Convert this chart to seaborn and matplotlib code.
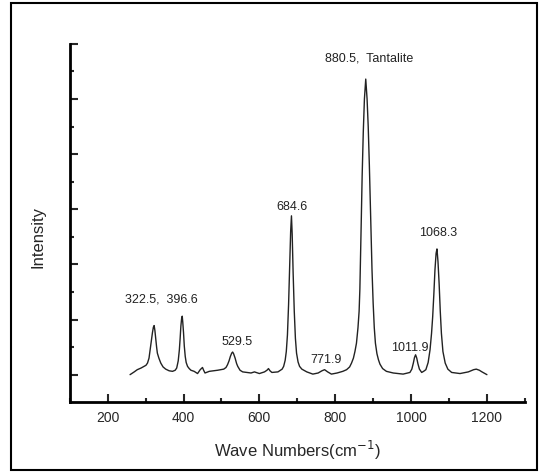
import pandas as pd
import matplotlib.pyplot as plt
import matplotlib.patches as patches
import seaborn as sns

# Raman spectrum points (wave number, intensity)
wave = [259, 270, 278, 288, 296, 301,
        305, 309, 312, 315, 318, 320.5, 322.5, 324.5, 327, 329, 331, 335, 340, 346, 353, 362, 371,
        378, 382, 386, 389, 391, 393, 395, 396.6, 398, 400, 402, 404.5, 407, 410.6, 415, 419.5, 428, 437,
        444, 450, 453, 456.6, 468, 490,
        506, 512, 516, 520, 523.5, 527, 529.5, 532, 536, 540, 543, 549, 556,
        578, 587, 600, 613.5, 620, 624, 628, 633, 649,
        660, 664, 668, 671, 674, 677, 680, 682.5, 684.6, 686.5, 689, 692, 695, 698, 702, 706, 712,
        725, 741, 755, 765, 772, 780, 790, 805, 820,
        830, 838, 843, 848, 852, 856, 860, 863, 865, 867, 869, 871, 874, 877, 880.5,
        884, 887, 890, 893, 895, 897, 900, 903, 906, 910, 914, 918, 925, 935, 953,
        979, 997, 1002, 1006, 1009, 1011.9, 1015, 1018, 1022, 1028, 1033,
        1039, 1045, 1050, 1054, 1057, 1060, 1063, 1066, 1068.3, 1071, 1074, 1077, 1080, 1084, 1090, 1097, 1107,
        1129, 1151, 1165, 1172, 1180, 1187, 1200]
intensity = [0.0, 0.05, 0.09, 0.12, 0.15, 0.17,
             0.21, 0.30, 0.45, 0.60, 0.76, 0.86, 0.89, 0.80, 0.63, 0.50, 0.39, 0.30, 0.21, 0.14, 0.10, 0.07, 0.06,
             0.08, 0.12, 0.25, 0.45, 0.65, 0.88, 1.02, 1.06, 0.95, 0.76, 0.52, 0.33, 0.22, 0.15, 0.11, 0.08, 0.06, 0.02,
             0.09, 0.13, 0.08, 0.03, 0.06, 0.08,
             0.10, 0.13, 0.18, 0.25, 0.33, 0.39, 0.41, 0.38, 0.30, 0.20, 0.15, 0.08, 0.05,
             0.03, 0.05, 0.02, 0.05, 0.08, 0.11, 0.07, 0.04, 0.05,
             0.10, 0.15, 0.26, 0.42, 0.72, 1.27, 2.0, 2.6, 2.88, 2.55, 1.85, 1.15, 0.66, 0.39, 0.23, 0.15, 0.10,
             0.05, 0.01, 0.03, 0.07, 0.09, 0.05, 0.01, 0.03, 0.06,
             0.09, 0.14, 0.21, 0.30, 0.42, 0.57, 0.85, 1.15, 1.55, 2.2, 2.9, 3.6, 4.4, 5.0, 5.36,
             5.0, 4.5, 3.8, 3.0, 2.4, 1.9, 1.3, 0.85, 0.57, 0.38, 0.27, 0.19, 0.11, 0.06, 0.03,
             0.01, 0.04, 0.10, 0.21, 0.31, 0.36, 0.30, 0.20, 0.10, 0.04, 0.06,
             0.09, 0.22, 0.45, 0.75, 1.05, 1.45, 1.9, 2.2, 2.28, 2.05, 1.65, 1.15, 0.75, 0.42, 0.21, 0.10, 0.04,
             0.02, 0.05, 0.09, 0.10, 0.08, 0.05, 0.0]

# peak labels: text, x, y
label_text = ['322.5,  396.6', '529.5', '684.6', '771.9', '880.5,  Tantalite', '1011.9', '1068.3']
label_x = [341, 542, 687, 777, 889, 996, 1071]
label_y = [1.36, 0.60, 3.04, 0.26, 5.74, 0.49, 2.57]

df = pd.DataFrame({'wave': wave, 'intensity': intensity})

sns.set_style('ticks')
plt.rcParams['font.family'] = ['Liberation Sans', 'DejaVu Sans']

fig = plt.figure(figsize=(5.45, 4.76), dpi=100)
ax = fig.add_axes([0.128, 0.155, 0.835, 0.753])

sns.lineplot(data=df, x='wave', y='intensity', ax=ax, color='#222222', linewidth=1.0)

for t, x, y in zip(label_text, label_x, label_y):
    ax.text(x, y, t, ha='center', va='center', fontsize=9, color='#222222')

ax.set_xlim(100, 1300)
ax.set_ylim(-0.5, 6)
ax.set_xticks([200, 400, 600, 800, 1000, 1200])
ax.set_xticks([100, 300, 500, 700, 900, 1100, 1300], minor=True)
ax.set_yticks([0, 1, 2, 3, 4, 5, 6])
ax.set_yticks([0.5, 1.5, 2.5, 3.5, 4.5, 5.5], minor=True)
ax.set_yticklabels([])
ax.tick_params(which='major', direction='in', length=6, width=1.5, labelsize=10, pad=6)
ax.tick_params(which='minor', direction='in', length=3, width=1.5)

for s in ['top', 'right']:
    ax.spines[s].set_visible(False)
for s in ['left', 'bottom']:
    ax.spines[s].set_linewidth(2)
    ax.spines[s].set_color('black')

ax.set_xlabel('Wave Numbers(cm$^{-1}$)', fontsize=12, va='center')
ax.set_ylabel('Intensity', fontsize=12, va='center')
ax.xaxis.set_label_coords(0.5, -0.134)
ax.yaxis.set_label_coords(-0.07, 0.46)

# outer frame
fig.patches.append(patches.Rectangle((0.02, 0.013), 0.965, 0.98, transform=fig.transFigure,
                                     fill=False, edgecolor='black', linewidth=1.5))

fig.savefig('out.png', dpi=100)
